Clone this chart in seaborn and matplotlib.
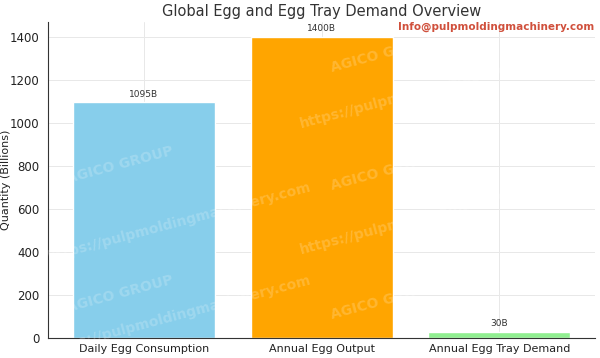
import pandas as pd
import matplotlib
matplotlib.use("Agg")
import matplotlib.pyplot as plt
import seaborn as sns

categories = ["Daily Egg Consumption", "Annual Egg Output", "Annual Egg Tray Demand"]
values = [1095, 1400, 30]
bar_labels = ["1095B", "1400B", "30B"]
colors = ["skyblue", "orange", "lightgreen"]

df = pd.DataFrame({"category": categories, "value": values})

sns.set_style("white")
plt.rcParams['font.family'] = ['DejaVu Sans']

fig = plt.figure(figsize=(6, 3.58), dpi=100)
ax = fig.add_axes([0.08, 0.056, 0.912, 0.883])

sns.barplot(data=df, x="category", y="value", hue="category",
            palette=colors, legend=False, width=0.8, saturation=1, ax=ax)

ax.set_xlim(-0.54, 2.54)
ax.set_ylim(0, 1470)
ax.set_yticks([0, 200, 400, 600, 800, 1000, 1200, 1400])
ax.grid(True, color="#e8e8e8", linewidth=0.7)
ax.set_axisbelow(True)
for s in ["top", "right"]:
    ax.spines[s].set_visible(False)
for s in ["left", "bottom"]:
    ax.spines[s].set_color("#333333")
ax.tick_params(axis="y", labelsize=8.5, length=3, color="#333333", labelcolor="#222222", pad=3)
ax.tick_params(axis="x", labelsize=8, length=3, color="#333333", labelcolor="#222222", pad=1)

for i, (v, lab) in enumerate(zip(values, bar_labels)):
    ax.text(i, v + 18, lab, ha="center", va="bottom", fontsize=6.5, color="#333333")

ax.set_xlabel("")
ax.set_ylabel("Quantity (Billions)", fontsize=8, color="#222222")
ax.yaxis.set_label_coords(-0.068, 0.5)
ax.set_title("Global Egg and Egg Tray Demand Overview", fontsize=10.5, color="#333333", pad=4)

# faint watermarks
wm = dict(color="white", alpha=0.2, fontsize=10, fontweight="bold", rotation=15,
          ha="center", va="center", transform=fig.transFigure)
fig.text(0.3, 0.38, "https://pulpmoldingmachinery.com", **wm)
fig.text(0.3, 0.12, "https://pulpmoldingmachinery.com", **wm)
fig.text(0.2, 0.54, "AGICO GROUP", **wm)
fig.text(0.2, 0.18, "AGICO GROUP", **wm)
fig.text(0.72, 0.4, "https://pulpmoldingmachinery.com", **wm)
fig.text(0.72, 0.75, "https://pulpmoldingmachinery.com", **wm)
fig.text(0.64, 0.16, "AGICO GROUP", **wm)
fig.text(0.64, 0.52, "AGICO GROUP", **wm)
fig.text(0.64, 0.85, "AGICO GROUP", **wm)

fig.text(0.99, 0.925, "Info@pulpmoldingmachinery.com", color="#d0503c",
         fontsize=7.5, fontweight="bold", ha="right", va="center")

fig.savefig("out.png", dpi=100)
